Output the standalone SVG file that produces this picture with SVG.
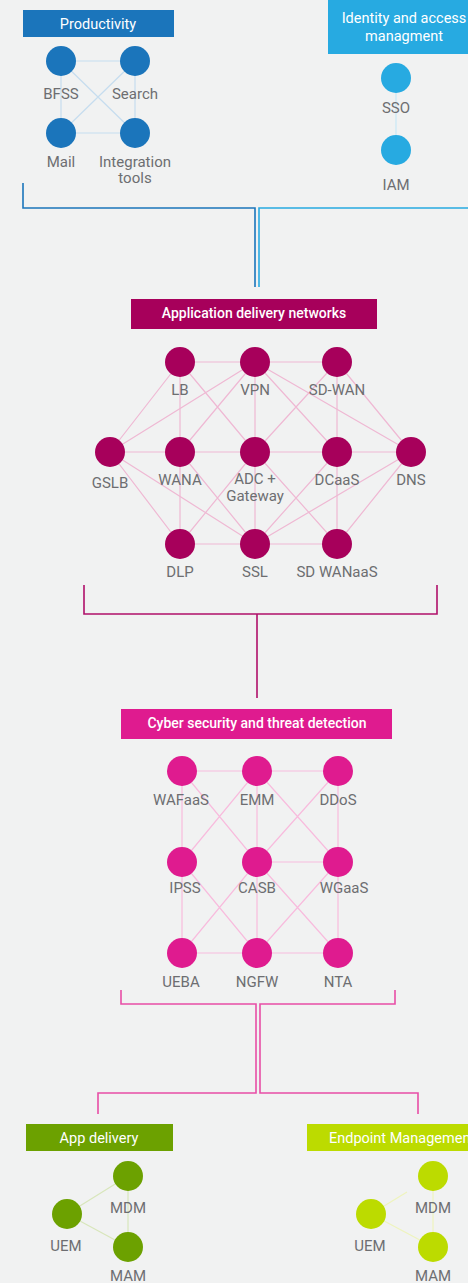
<svg xmlns="http://www.w3.org/2000/svg" width="468" height="1283" viewBox="0 0 468 1283">
<style>
.lbl{font-family:Roboto,"Liberation Sans",sans-serif;font-size:15px;fill:#6d6e71;text-anchor:middle}
.hdr{font-family:Roboto,"Liberation Sans",sans-serif;font-size:14.5px;fill:#fff;text-anchor:middle}
.hdrb{font-family:Roboto,"Liberation Sans",sans-serif;font-size:14px;font-weight:500;fill:#fff;text-anchor:middle}
.e{fill:none;stroke-width:1.2}
.b{fill:none;stroke-width:1.6}
.prod{fill:#1b75bb}.iam{fill:#27aae1}.adn{fill:#a7005b}.cyb{fill:#df1b8f}.app{fill:#6ca100}.end{fill:#bcdb00}
</style>
<rect width="468" height="1283" fill="#f1f2f2"/>

<g id="connectors">
  <g class="e" stroke="#c6ddef">
    <path d="M61 61H135M61 133H135M61 61V133M135 61V133M61 61L135 133M135 61L61 133"/>
  </g>
  <g class="e" stroke="#c9e8f6">
    <path d="M396 78V150"/>
  </g>
  <g class="e" stroke="#efb8d3">
    <path d="M180 362H337M110 452H411M180 544H337"/>
    <path d="M180 362V544M255 362V544M337 362V544"/>
    <path d="M180 362L110 452M180 362L255 452M255 362L110 452M255 362L180 452M255 362L337 452M255 362L411 452M337 362L255 452M337 362L411 452"/>
    <path d="M110 452L180 544M110 452L255 544M180 452L255 544M255 452L180 544M255 452L337 544M337 452L255 544M411 452L255 544M411 452L337 544"/>
  </g>
  <g class="e" stroke="#f8bbdd">
    <path d="M182 771H338M257 862H338M182 953H338"/>
    <path d="M182 771V953M257 771V953M338 771V953"/>
    <path d="M182 771L257 862M257 771L182 862M257 771L338 862M338 771L257 862"/>
    <path d="M182 862L257 953M257 862L182 953M257 862L338 953M338 862L257 953"/>
  </g>
  <g class="e" stroke="#d8e6bb">
    <path d="M67 1214L128 1176M67 1214L128 1247M128 1176V1247"/>
  </g>
  <g class="e" stroke="#eef4bd">
    <path d="M371 1214L407 1192M371 1214L433 1247M433 1176V1247"/>
  </g>
  <path class="b" stroke="#1b75bb" d="M23 183V208H255V287"/>
  <path class="b" stroke="#27aae1" d="M469 208H259V287"/>
  <path class="b" stroke="#b0106a" d="M84 585V614H437V585M257 614V698"/>
  <path class="b" stroke="#e84ea6" d="M121 990V1004H256V1093H98V1114"/>
  <path class="b" stroke="#e84ea6" d="M395 990V1004H260V1093H418V1114"/>
</g>

<g id="productivity">
  <rect x="23" y="10" width="151" height="27" class="prod"/>
  <text x="98" y="29" class="hdr">Productivity</text>
</g>
<g id="bfss"><circle cx="61" cy="61" r="15" class="prod"/><text x="61" y="99" class="lbl">BFSS</text></g>
<g id="search"><circle cx="135" cy="61" r="15" class="prod"/><text x="135" y="99" class="lbl">Search</text></g>
<g id="mail"><circle cx="61" cy="133" r="15" class="prod"/><text x="61" y="167" class="lbl">Mail</text></g>
<g id="integration"><circle cx="135" cy="133" r="15" class="prod"/><text x="135" y="167" class="lbl">Integration</text><text x="135" y="183" class="lbl">tools</text></g>

<g id="iam-header">
  <rect x="328" y="-2" width="152" height="56" class="iam"/>
  <text x="404" y="23" class="hdr">Identity and access</text>
  <text x="404" y="41" class="hdr">managment</text>
</g>
<g id="sso"><circle cx="396" cy="78" r="15" class="iam"/><text x="396" y="113" class="lbl">SSO</text></g>
<g id="iam"><circle cx="396" cy="150" r="15" class="iam"/><text x="396" y="190" class="lbl">IAM</text></g>

<g id="adn-header">
  <rect x="131" y="299" width="246" height="30" class="adn"/>
  <text x="254" y="318" class="hdrb">Application delivery networks</text>
</g>
<g id="lb"><circle cx="180" cy="362" r="15" class="adn"/><text x="180" y="395" class="lbl">LB</text></g>
<g id="vpn"><circle cx="255" cy="362" r="15" class="adn"/><text x="255" y="395" class="lbl">VPN</text></g>
<g id="sdwan"><circle cx="337" cy="362" r="15" class="adn"/><text x="337" y="395" class="lbl">SD-WAN</text></g>
<g id="gslb"><circle cx="110" cy="452" r="15" class="adn"/><text x="110" y="488" class="lbl">GSLB</text></g>
<g id="wana"><circle cx="180" cy="452" r="15" class="adn"/><text x="180" y="485" class="lbl">WANA</text></g>
<g id="adc"><circle cx="255" cy="452" r="15" class="adn"/><text x="255" y="484" class="lbl">ADC +</text><text x="255" y="501" class="lbl">Gateway</text></g>
<g id="dcaas"><circle cx="337" cy="452" r="15" class="adn"/><text x="337" y="485" class="lbl">DCaaS</text></g>
<g id="dns"><circle cx="411" cy="452" r="15" class="adn"/><text x="411" y="485" class="lbl">DNS</text></g>
<g id="dlp"><circle cx="180" cy="544" r="15" class="adn"/><text x="180" y="577" class="lbl">DLP</text></g>
<g id="ssl"><circle cx="255" cy="544" r="15" class="adn"/><text x="255" y="577" class="lbl">SSL</text></g>
<g id="sdwanaas"><circle cx="337" cy="544" r="15" class="adn"/><text x="337" y="577" class="lbl">SD WANaaS</text></g>

<g id="cyber-header">
  <rect x="121" y="709" width="271" height="30" class="cyb"/>
  <text x="257" y="728" class="hdrb">Cyber security and threat detection</text>
</g>
<g id="wafaas"><circle cx="182" cy="771" r="15" class="cyb"/><text x="181" y="805" class="lbl">WAFaaS</text></g>
<g id="emm"><circle cx="257" cy="771" r="15" class="cyb"/><text x="257" y="805" class="lbl">EMM</text></g>
<g id="ddos"><circle cx="338" cy="771" r="15" class="cyb"/><text x="338" y="805" class="lbl">DDoS</text></g>
<g id="ipss"><circle cx="182" cy="862" r="15" class="cyb"/><text x="185" y="893" class="lbl">IPSS</text></g>
<g id="casb"><circle cx="257" cy="862" r="15" class="cyb"/><text x="257" y="893" class="lbl">CASB</text></g>
<g id="wgaas"><circle cx="338" cy="862" r="15" class="cyb"/><text x="344" y="893" class="lbl">WGaaS</text></g>
<g id="ueba"><circle cx="182" cy="953" r="15" class="cyb"/><text x="181" y="987" class="lbl">UEBA</text></g>
<g id="ngfw"><circle cx="257" cy="953" r="15" class="cyb"/><text x="257" y="987" class="lbl">NGFW</text></g>
<g id="nta"><circle cx="338" cy="953" r="15" class="cyb"/><text x="338" y="987" class="lbl">NTA</text></g>

<g id="app-header">
  <rect x="26" y="1124" width="147" height="27" class="app"/>
  <text x="99" y="1143" class="hdr">App delivery</text>
</g>
<g id="app-mdm"><circle cx="128" cy="1176" r="15" class="app"/><text x="128" y="1213" class="lbl">MDM</text></g>
<g id="app-uem"><circle cx="67" cy="1214" r="15" class="app"/><text x="66" y="1251" class="lbl">UEM</text></g>
<g id="app-mam"><circle cx="128" cy="1247" r="15" class="app"/><text x="128" y="1281" class="lbl">MAM</text></g>

<g id="end-header">
  <rect x="307" y="1124" width="170" height="27" class="end"/>
  <text x="329" y="1143" class="hdr" style="text-anchor:start">Endpoint Management</text>
</g>
<g id="end-mdm"><circle cx="433" cy="1176" r="15" class="end"/><text x="433" y="1213" class="lbl">MDM</text></g>
<g id="end-uem"><circle cx="371" cy="1214" r="15" class="end"/><text x="370" y="1251" class="lbl">UEM</text></g>
<g id="end-mam"><circle cx="433" cy="1247" r="15" class="end"/><text x="433" y="1281" class="lbl">MAM</text></g>
</svg>
